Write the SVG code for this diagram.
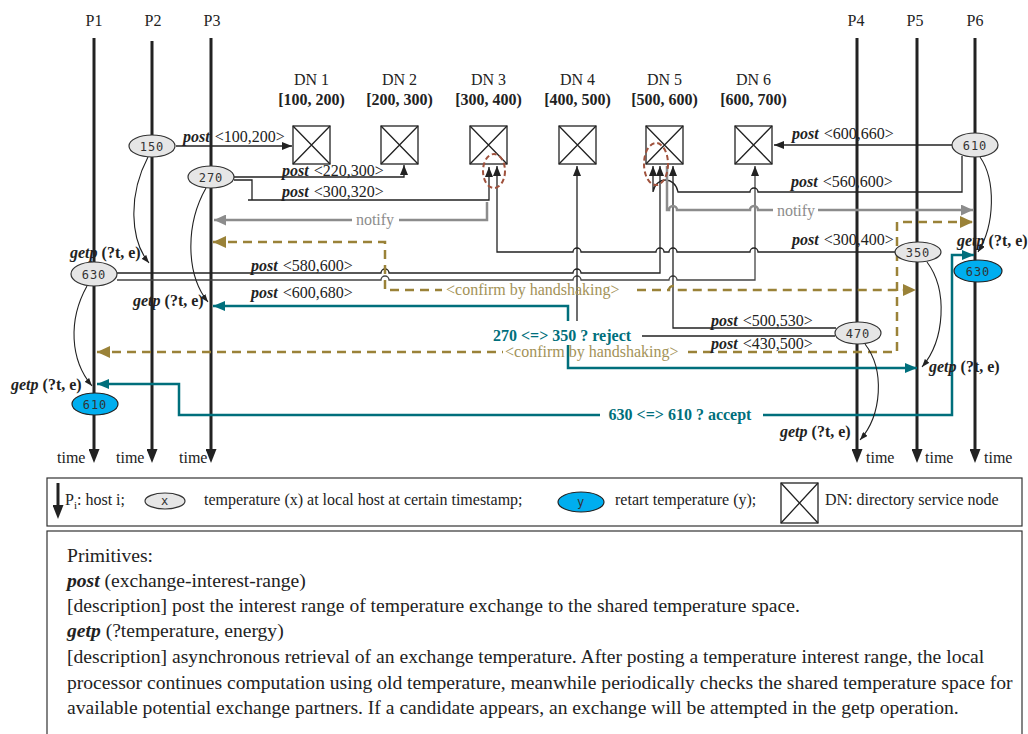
<svg xmlns="http://www.w3.org/2000/svg" width="1028" height="734" viewBox="0 0 1028 734">
<style>
.t{font-family:"Liberation Serif","Times New Roman",serif;font-size:16px;fill:#222}
.c{text-anchor:middle}
.b{font-weight:bold}
.bi{font-weight:bold;font-style:italic}
.m{font-family:"DejaVu Sans Mono",monospace;font-size:12px;fill:#333;text-anchor:middle;letter-spacing:1px}
.proc{stroke:#222;stroke-width:3;fill:none}
.ln{stroke:#222;stroke-width:1.3;fill:none}
.ln2{stroke:#444;stroke-width:1.3;fill:none}
.gr{stroke:#8c8c8c;stroke-width:2.5;fill:none}
.ol{stroke:#9a8238;stroke-width:2.5;stroke-dasharray:9 6;fill:none}
.tl{stroke:#006f7c;stroke-width:2.5;fill:none}
.cv{stroke:#222;stroke-width:1.1;fill:none}
.box{fill:#fff;stroke:#222;stroke-width:1.3}
.grey{fill:#e6e6e6;stroke:#333;stroke-width:1.2}
.blue{fill:#00aeef;stroke:#222;stroke-width:1.2}
.red{fill:none;stroke:#a0523d;stroke-width:2;stroke-dasharray:5 3}
.tg{fill:#8c8c8c}
.to{fill:#a39257}
.tt{fill:#006f7c;font-weight:bold}
.p{font-family:"Liberation Serif","Times New Roman",serif;font-size:19.6px;fill:#222}
</style>
<defs>
<marker id="ak" viewBox="0 0 10 8" markerWidth="10" markerHeight="8" refX="10" refY="4" orient="auto-start-reverse" markerUnits="userSpaceOnUse"><path d="M0,0L10,4L0,8z" fill="#222"/></marker>
<marker id="ac" viewBox="0 0 8 6" markerWidth="8" markerHeight="6" refX="8" refY="3" orient="auto-start-reverse" markerUnits="userSpaceOnUse"><path d="M0,0L8,3L0,6z" fill="#222"/></marker>
<marker id="ap" viewBox="0 0 14 11" markerWidth="14" markerHeight="11" refX="3" refY="5.5" orient="auto-start-reverse" markerUnits="userSpaceOnUse"><path d="M0,0L14,5.5L0,11z" fill="#222"/></marker>
<marker id="ag" viewBox="0 0 12 11" markerWidth="12" markerHeight="11" refX="12" refY="5.5" orient="auto-start-reverse" markerUnits="userSpaceOnUse"><path d="M0,0L12,5.5L0,11z" fill="#8c8c8c"/></marker>
<marker id="ao" viewBox="0 0 13 12" markerWidth="13" markerHeight="12" refX="13" refY="6" orient="auto-start-reverse" markerUnits="userSpaceOnUse"><path d="M0,0L13,6L0,12z" fill="#9a8238"/></marker>
<marker id="at" viewBox="0 0 12 10" markerWidth="12" markerHeight="10" refX="12" refY="5" orient="auto-start-reverse" markerUnits="userSpaceOnUse"><path d="M0,0L12,5L0,10z" fill="#006f7c"/></marker>
</defs>
<rect width="1028" height="734" fill="#fff"/>

<g id="processes">
<g id="P1"><text class="t c" x="94" y="26">P1</text><path class="proc" d="M94,38V452" marker-end="url(#ap)"/><text class="t" x="57" y="463">time</text></g>
<g id="P2"><text class="t c" x="153" y="26">P2</text><path class="proc" d="M152,41V452" marker-end="url(#ap)"/><text class="t" x="116" y="463">time</text></g>
<g id="P3"><text class="t c" x="212" y="26">P3</text><path class="proc" d="M211,38V452" marker-end="url(#ap)"/><text class="t" x="179" y="463">time</text></g>
<g id="P4"><text class="t c" x="856" y="26">P4</text><path class="proc" d="M857,38V452" marker-end="url(#ap)"/><text class="t" x="866" y="463">time</text></g>
<g id="P5"><text class="t c" x="915" y="26">P5</text><path class="proc" d="M917,38V452" marker-end="url(#ap)"/><text class="t" x="925" y="463">time</text></g>
<g id="P6"><text class="t c" x="975" y="26">P6</text><path class="proc" d="M975,38V452" marker-end="url(#ap)"/><text class="t" x="984" y="463">time</text></g>
</g>

<g id="DN1"><text class="t c" x="311.5" y="85">DN 1</text><text class="t c b" x="311.5" y="105">[100, 200)</text><rect class="box" x="293" y="126" width="37" height="38"/><path class="ln" d="M293,126L330,164M330,126L293,164"/></g>
<g id="DN2"><text class="t c" x="399.5" y="85">DN 2</text><text class="t c b" x="399.5" y="105">[200, 300)</text><rect class="box" x="381" y="126" width="37" height="38"/><path class="ln" d="M381,126L418,164M418,126L381,164"/></g>
<g id="DN3"><text class="t c" x="488.5" y="85">DN 3</text><text class="t c b" x="488.5" y="105">[300, 400)</text><rect class="box" x="470" y="126" width="37" height="38"/><path class="ln" d="M470,126L507,164M507,126L470,164"/></g>
<g id="DN4"><text class="t c" x="577.5" y="85">DN 4</text><text class="t c b" x="577.5" y="105">[400, 500)</text><rect class="box" x="559" y="126" width="37" height="38"/><path class="ln" d="M559,126L596,164M596,126L559,164"/></g>
<g id="DN5"><text class="t c" x="664.5" y="85">DN 5</text><text class="t c b" x="664.5" y="105">[500, 600)</text><rect class="box" x="646" y="126" width="37" height="38"/><path class="ln" d="M646,126L683,164M683,126L646,164"/></g>
<g id="DN6"><text class="t c" x="753.5" y="85">DN 6</text><text class="t c b" x="753.5" y="105">[600, 700)</text><rect class="box" x="735" y="126" width="37" height="38"/><path class="ln" d="M735,126L772,164M772,126L735,164"/></g>

<g id="connectors">
<path class="ln" d="M176,146H292" marker-end="url(#ak)"/>
<path class="ln" d="M234,177H404V165" marker-end="url(#ak)"/>
<path class="ln" d="M234,180H252V200M248,200H489V167" marker-end="url(#ak)"/>
<path class="ln" d="M117,273H381a4,4 0 0 1 8,0H573a4,4 0 0 1 8,0H660V166" marker-end="url(#ak)"/>
<path class="ln2" d="M117,280H381a4,4 0 0 1 8,0H573a4,4 0 0 1 8,0H669a4,4 0 0 1 8,0H755V166" marker-end="url(#ak)"/>
<path class="ln" d="M497,166V252H573a4,4 0 0 1 8,0H656a4,4 0 0 1 8,0H669a4,4 0 0 1 8,0H750a4,4 0 0 1 8,0H895" marker-start="url(#ak)"/>
<path class="ln" d="M835,336H577V166" marker-end="url(#ak)"/>
<path class="ln" d="M836,328H673V166" marker-end="url(#ak)"/>
<path class="ln" d="M952,145H774" marker-end="url(#ak)"/>
<path class="ln" d="M962,156V192H758a4,4 0 0 0 -8,0H678c-3,-16 -22,-16 -25,0V166" marker-end="url(#ak)"/>
<path class="gr" d="M487,202V220H399M352,220H214" marker-end="url(#ag)"/>
<path class="gr" d="M667,166V210H669a4,4 0 0 1 8,0H750a4,4 0 0 1 8,0H773M818,210H973" marker-end="url(#ag)"/>
<path class="ol" d="M213,242H385V290H442M637,290H669a4,4 0 0 1 8,0H916" marker-start="url(#ao)" marker-end="url(#ao)"/>
<path class="ol" d="M97,352H503M688,352H897V222H973" marker-start="url(#ao)" marker-end="url(#ao)"/>
<path class="tl" d="M213,306H568V368H917" marker-start="url(#at)" marker-end="url(#at)"/>
<path class="tl" d="M97,384H179V415H600M763,415H952V255H974" marker-start="url(#at)" marker-end="url(#at)"/>
<path class="cv" d="M148,157C128,195 130,240 149,263" marker-end="url(#ac)"/>
<path class="cv" d="M206,188C185,225 186,275 208,302" marker-end="url(#ac)"/>
<path class="cv" d="M87,286C68,320 70,360 92,386" marker-end="url(#ac)"/>
<path class="cv" d="M980,157C996,180 995,225 978,252" marker-end="url(#ac)"/>
<path class="cv" d="M927,262C948,290 945,340 922,367" marker-end="url(#ac)"/>
<path class="cv" d="M865,344C885,370 882,415 860,440" marker-end="url(#ac)"/>
<ellipse class="red" cx="494" cy="171" rx="11" ry="17"/>
<ellipse class="red" cx="656" cy="164" rx="12" ry="21"/>
<text class="t" x="183" y="142"><tspan class="bi">post</tspan><tspan dx="5">&lt;100,200&gt;</tspan></text>
<text class="t" x="282" y="176"><tspan class="bi">post</tspan><tspan dx="5">&lt;220,300&gt;</tspan></text>
<text class="t" x="282" y="197"><tspan class="bi">post</tspan><tspan dx="5">&lt;300,320&gt;</tspan></text>
<text class="t" x="251" y="271"><tspan class="bi">post</tspan><tspan dx="5">&lt;580,600&gt;</tspan></text>
<text class="t" x="251" y="298"><tspan class="bi">post</tspan><tspan dx="5">&lt;600,680&gt;</tspan></text>
<text class="t" x="792" y="139"><tspan class="bi">post</tspan><tspan dx="5">&lt;600,660&gt;</tspan></text>
<text class="t" x="791" y="187"><tspan class="bi">post</tspan><tspan dx="5">&lt;560,600&gt;</tspan></text>
<text class="t" x="792" y="245"><tspan class="bi">post</tspan><tspan dx="5">&lt;300,400&gt;</tspan></text>
<text class="t" x="711" y="326"><tspan class="bi">post</tspan><tspan dx="5">&lt;500,530&gt;</tspan></text>
<text class="t" x="711" y="349"><tspan class="bi">post</tspan><tspan dx="5">&lt;430,500&gt;</tspan></text>
<text class="t tg c" x="375" y="225">notify</text>
<text class="t tg c" x="796" y="216">notify</text>
<text class="t to" x="446" y="295">&lt;confirm by handshaking&gt;</text>
<text class="t to" x="505" y="357">&lt;confirm by handshaking&gt;</text>
<rect x="489" y="321" width="153" height="24" fill="#fff"/>
<text class="t tt c" x="562" y="341">270 &lt;=&gt; 350 ? reject</text>
<text class="t tt c" x="680" y="420">630 &lt;=&gt; 610 ? accept</text>
<text class="t" x="70" y="258"><tspan class="bi">getp</tspan><tspan class="b"> (?t, e)</tspan></text>
<text class="t" x="133" y="306"><tspan class="bi">getp</tspan><tspan class="b"> (?t, e)</tspan></text>
<text class="t" x="11" y="390"><tspan class="bi">getp</tspan><tspan class="b"> (?t, e)</tspan></text>
<text class="t" x="957" y="246"><tspan class="bi">getp</tspan><tspan class="b"> (?t, e)</tspan></text>
<text class="t" x="929" y="372"><tspan class="bi">getp</tspan><tspan class="b"> (?t, e)</tspan></text>
<text class="t" x="780" y="437"><tspan class="bi">getp</tspan><tspan class="b"> (?t, e)</tspan></text>
</g>

<g id="n150"><ellipse class="grey" cx="152" cy="146" rx="23" ry="11"/><text class="m" x="152" y="150.5">150</text></g>
<g id="n270"><ellipse class="grey" cx="211" cy="177" rx="23" ry="11"/><text class="m" x="211" y="181.5">270</text></g>
<g id="n630"><ellipse class="grey" cx="94" cy="274" rx="23" ry="12"/><text class="m" x="94" y="278.5">630</text></g>
<g id="n610b"><ellipse class="blue" cx="95" cy="404" rx="23" ry="11"/><text class="m" x="95" y="408.5">610</text></g>
<g id="n610"><ellipse class="grey" cx="975" cy="145" rx="23" ry="12"/><text class="m" x="975" y="149.5">610</text></g>
<g id="n350"><ellipse class="grey" cx="918" cy="252" rx="23" ry="10"/><text class="m" x="918" y="256.5">350</text></g>
<g id="n630b"><ellipse class="blue" cx="978" cy="271" rx="24" ry="11"/><text class="m" x="978" y="275.5">630</text></g>
<g id="n470"><ellipse class="grey" cx="858" cy="333" rx="23" ry="11"/><text class="m" x="858" y="337.5">470</text></g>

<g id="legend">
<rect x="47" y="478" width="975" height="48" fill="none" stroke="#333" stroke-width="1.2"/>
<path class="proc" d="M58,483V508" marker-end="url(#ap)"/>
<text class="t" x="65" y="505">P<tspan font-size="11" dy="4">i</tspan><tspan dy="-4">: host i;</tspan></text>
<ellipse class="grey" cx="165" cy="501" rx="20" ry="8"/><text class="m" x="165" y="505">x</text>
<text class="t" x="204" y="505">temperature (x) at local host at certain timestamp;</text>
<ellipse class="blue" cx="581" cy="502" rx="23" ry="10"/><text class="m" x="581" y="506">y</text>
<text class="t" x="615" y="505">retart temperature (y);</text>
<rect class="box" x="781" y="483" width="37" height="40"/><path class="ln" d="M781,483L818,523M818,483L781,523"/>
<text class="t" x="825" y="505">DN: directory service node</text>
</g>

<g id="primitives">
<rect x="47" y="531" width="975" height="215" fill="none" stroke="#333" stroke-width="1.2"/>
<text class="p" x="67" y="562">Primitives:</text>
<text class="p" x="67" y="587"><tspan class="bi">post</tspan> (exchange-interest-range)</text>
<text class="p" x="67" y="612">[description] post the interest range of temperature exchange to the shared temperature space.</text>
<text class="p" x="67" y="637"><tspan class="bi">getp</tspan> (?temperature, energy)</text>
<text class="p" x="67" y="663">[description] asynchronous retrieval of an exchange temperature. After posting a temperature interest range, the local</text>
<text class="p" x="67" y="689">processor continues computation using old temperature, meanwhile periodically checks the shared temperature space for</text>
<text class="p" x="67" y="714">available potential exchange partners. If a candidate appears, an exchange will be attempted in the getp  operation.</text>
</g>
</svg>
